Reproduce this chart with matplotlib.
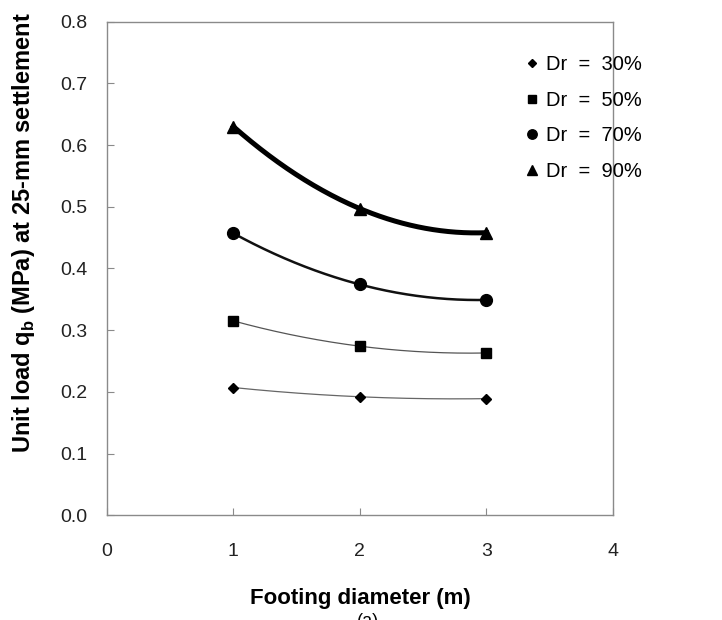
import numpy as np
import matplotlib
matplotlib.use('Agg')
import matplotlib.pyplot as plt

plt.rcParams['font.family'] = ['Liberation Sans', 'DejaVu Sans']

# footing diameter (m)
diameters = [1, 2, 3]
# unit load at 25-mm settlement (MPa)
q_dr30 = [0.207, 0.192, 0.189]
q_dr50 = [0.315, 0.274, 0.263]
q_dr70 = [0.457, 0.374, 0.349]
q_dr90 = [0.630, 0.497, 0.458]
labels = ['Dr  =  30%', 'Dr  =  50%', 'Dr  =  70%', 'Dr  =  90%']

series = [q_dr30, q_dr50, q_dr70, q_dr90]
markers = ['D', 's', 'o', '^']
msizes = [5.5, 7.5, 8.5, 8.5]
lwidths = [0.9, 0.9, 1.8, 3.6]
lcolors = ['#666666', '#555555', '#111111', '#000000']

fig = plt.figure(figsize=(7.22, 6.2), dpi=100)
ax = fig.add_axes([0.148, 0.169, 0.701, 0.796])

xs = np.linspace(1, 3, 200)
for q, m, ms, lw, lc, lab in zip(series, markers, msizes, lwidths, lcolors, labels):
    # 2nd order trendline through the points
    coef = np.polyfit(diameters, q, 2)
    ax.plot(xs, np.polyval(coef, xs), color=lc, lw=lw, zorder=2)
    ax.plot(diameters, q, linestyle='none', marker=m, markersize=ms,
            color='black', zorder=3, label=lab)

ax.set_xlim(0, 4)
ax.set_ylim(0, 0.8)
ax.set_xticks([0, 1, 2, 3, 4])
ax.set_yticks(np.arange(0, 0.81, 0.1))
ax.set_yticklabels(['%.1f' % v for v in np.arange(0, 0.81, 0.1)])

for s in ax.spines.values():
    s.set_color('#8a8a8a')
    s.set_linewidth(1.0)
ax.tick_params(direction='in', length=5, color='#8a8a8a', labelsize=14,
               labelcolor='#222222')
ax.tick_params(axis='x', pad=20)
ax.tick_params(axis='y', pad=14)

ax.set_xlabel('Footing diameter (m)', fontsize=16, fontweight='bold', labelpad=20)
ax.set_ylabel('Unit load q$_\\mathregular{b}$ (MPa) at 25-mm settlement',
              fontsize=17, fontweight='bold')
ax.yaxis.set_label_coords(-0.138, 0.572)

ax.legend(loc='upper left', bbox_to_anchor=(0.828, 0.932), frameon=False,
          borderaxespad=0, borderpad=0,
          fontsize=14.5, handlelength=0.6, handletextpad=0.4, labelspacing=0.82,
          markerscale=0.8)

fig.text(0.51, 0.012, '(a)', ha='center', va='top', fontsize=13)

fig.savefig('out.png', dpi=100)
